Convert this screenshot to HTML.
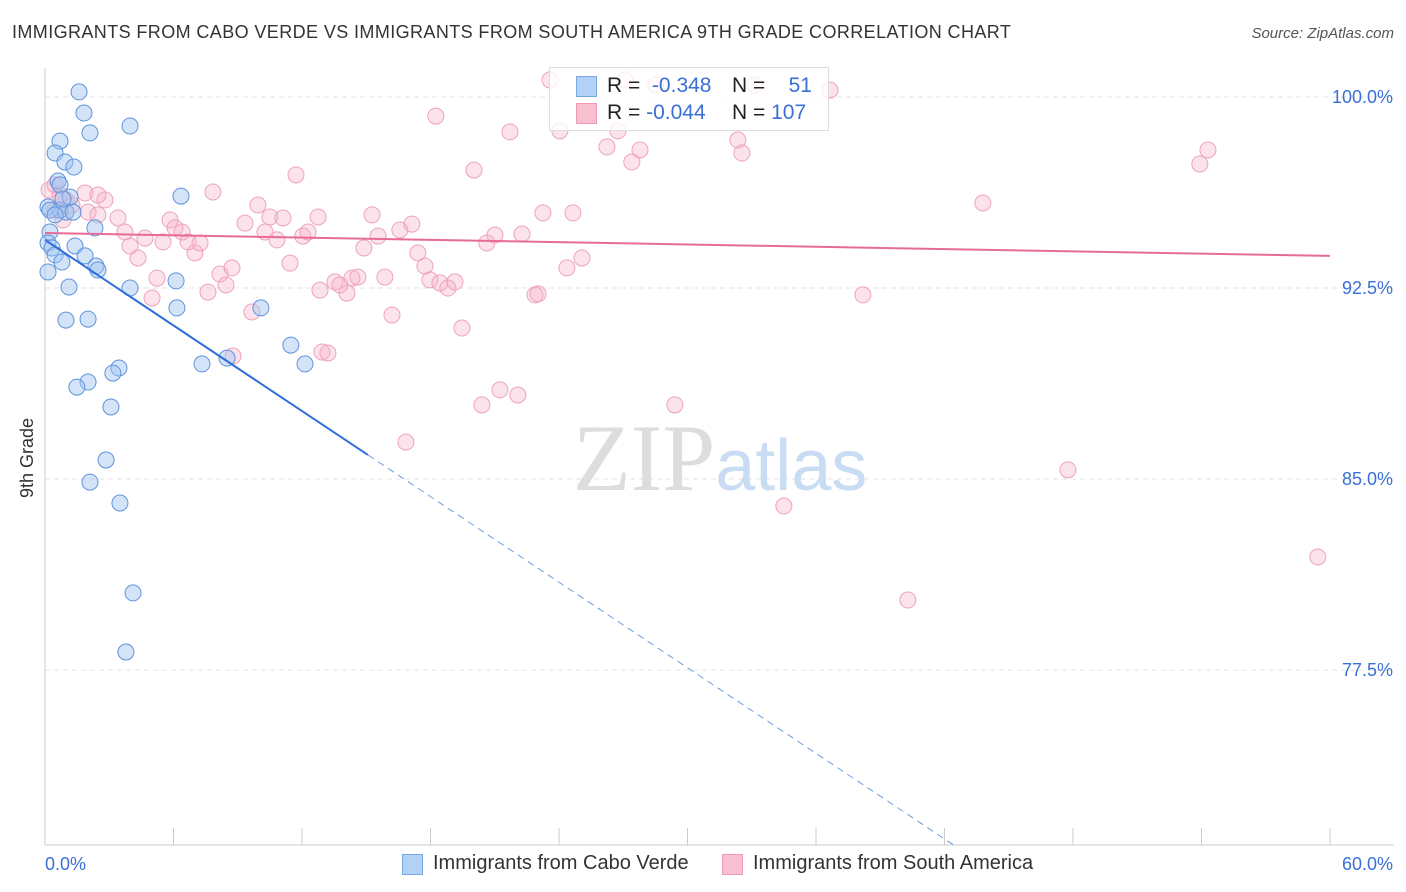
<!DOCTYPE html>
<html><head><meta charset="utf-8"><style>
body{margin:0;background:#fff;font-family:"Liberation Sans",sans-serif;}
#wrap{position:relative;width:1406px;height:892px;overflow:hidden;}
.t{position:absolute;white-space:nowrap;}
</style></head><body>
<div id="wrap">
<div class="t" style="left:12px;top:22px;font-size:18px;letter-spacing:0.4px;color:#333;">IMMIGRANTS FROM CABO VERDE VS IMMIGRANTS FROM SOUTH AMERICA 9TH GRADE CORRELATION CHART</div>
<div class="t" style="right:12px;top:25px;font-size:15px;color:#555;font-style:italic;">Source: ZipAtlas.com</div>
<div class="t" style="left:17px;top:498px;font-size:18px;color:#333;transform:rotate(-90deg);transform-origin:left top;">9th Grade</div>
<svg id="plot" width="1406" height="892" style="position:absolute;left:0;top:0"></svg>
<div style="position:absolute;left:549px;top:67px;width:278px;height:62px;border:1px solid #ddd;background:rgba(255,255,255,0.8);font-size:21px;">
<div style="position:absolute;left:26px;top:8px;width:19px;height:19px;background:#b3d0f5;border:1px solid #7aa7e5;"></div>
<div class="t" style="left:57px;top:6px;color:#222;">R = <span style="color:#3a6fd8">&nbsp;-0.348</span></div>
<div class="t" style="left:182px;top:6px;color:#222;">N = <span style="color:#3a6fd8">&nbsp;&nbsp;&nbsp;51</span></div>
<div style="position:absolute;left:26px;top:35px;width:19px;height:19px;background:#f8bfd0;border:1px solid #ee9ab5;"></div>
<div class="t" style="left:57px;top:33px;color:#222;">R = <span style="color:#3a6fd8">-0.044</span></div>
<div class="t" style="left:182px;top:33px;color:#222;">N = <span style="color:#3a6fd8">107</span></div>
</div>
<div style="position:absolute;left:400px;top:852px;font-size:20px;color:#333;">
<div style="position:absolute;left:2px;top:2px;width:19px;height:19px;background:#b3d0f5;border:1px solid #7aa7e5;"></div>
<div class="t" style="left:33px;top:0;">Immigrants from Cabo Verde</div>
<div style="position:absolute;left:322px;top:2px;width:19px;height:19px;background:#f8bfd0;border:1px solid #ee9ab5;"></div>
<div class="t" style="left:353px;top:0;">Immigrants from South America</div>
</div>
</div>
<script>
const yTicks=[100,92.5,85,77.5];
const yTickLabels=["100.0%","92.5%","85.0%","77.5%"];
const xEnds=[0,60];
const xEndLabels=["0.0%","60.0%"];
const blueX=[1.59,1.82,2.10,3.97,0.70,0.47,0.93,1.35,0.61,0.70,1.17,6.35,0.14,0.70,0.98,1.31,2.33,0.23,0.14,0.33,1.40,0.47,0.79,1.87,2.38,2.47,0.14,1.12,3.97,6.12,10.08,6.16,0.98,2.01,11.48,8.50,7.33,12.14,3.45,3.17,2.01,1.49,3.08,2.85,2.10,3.50,4.11,3.78,0.23,0.47,0.84];
const blueY=[100.2,99.37,98.59,98.86,98.27,97.80,97.45,97.25,96.70,96.55,96.07,96.11,95.68,95.56,95.48,95.48,94.86,94.70,94.27,94.07,94.15,93.80,93.52,93.76,93.36,93.21,93.13,92.54,92.50,92.78,91.72,91.72,91.24,91.28,90.26,89.75,89.52,89.52,89.36,89.16,88.81,88.61,87.83,85.75,84.88,84.06,80.53,78.21,95.56,95.37,96.0];
const pinkX=[0.19,0.47,0.70,0.98,0.47,0.84,1.26,1.87,2.01,2.47,2.80,3.41,3.73,3.97,4.34,4.67,5.00,5.23,5.51,5.84,6.07,6.40,6.68,7.00,7.24,7.61,7.84,8.17,8.45,8.73,9.34,9.66,9.94,10.27,10.50,10.83,11.11,11.44,11.72,12.04,12.28,12.75,12.93,13.21,13.54,13.77,14.10,14.33,14.61,14.89,15.27,15.55,15.87,16.20,16.57,16.85,17.13,17.41,17.74,17.97,18.25,18.44,18.81,19.14,19.47,20.03,20.40,20.63,21.01,21.24,21.71,22.08,22.27,22.88,23.02,23.25,23.58,24.04,24.37,24.65,25.07,26.24,26.75,27.08,27.40,27.78,28.52,29.41,32.35,32.54,33.15,34.50,36.65,38.19,40.29,43.79,47.76,53.92,54.30,59.43,12.84,2.47,8.78];
const pinkY=[96.35,96.55,96.15,95.96,95.56,95.17,95.76,96.23,95.48,95.37,95.96,95.25,94.70,94.15,93.68,94.46,92.11,92.89,94.31,95.17,94.86,94.70,94.31,93.88,94.27,92.34,96.27,93.05,92.62,93.29,95.05,91.56,95.76,94.70,95.29,94.39,95.25,93.48,96.94,94.54,94.70,95.29,89.99,89.95,92.74,92.62,92.30,92.89,92.93,94.07,95.37,94.54,92.93,91.44,94.78,86.45,95.01,93.88,93.36,92.82,99.25,92.70,92.50,92.74,90.93,97.13,87.91,94.27,94.58,88.50,98.63,88.30,94.62,92.23,92.27,95.45,100.67,98.67,93.29,95.45,93.68,98.04,98.67,100.67,97.45,97.92,100.47,87.91,98.31,97.80,100.47,83.94,100.27,92.23,80.25,95.84,85.36,97.37,97.92,81.94,92.42,96.15,89.83];
const blueTrend=[94.39,-0.56,15.08];
const pinkTrend=[94.66,93.76];
const X=v=>45+v*(1285/60);
const Y=v=>97+(100-v)*25.47;
const svg=document.getElementById('plot');
const NS='http://www.w3.org/2000/svg';
function mk(t,a){const e=document.createElementNS(NS,t);for(const k in a)e.setAttribute(k,a[k]);svg.appendChild(e);return e;}
yTicks.forEach((v,i)=>{
 const g=mk('line',{x1:45,x2:1394,y1:Y(v),y2:Y(v),stroke:'#e3e3e3','stroke-dasharray':'5,4'});
 
 
 const t=mk('text',{x:1393,y:Y(v)+6,'text-anchor':'end','font-size':18,fill:'#3a6fd8','font-family':'Liberation Sans, sans-serif'});
 t.textContent=yTickLabels[i];
 
 
});
const ax=mk('line',{x1:45,x2:45,y1:68,y2:845,stroke:'#ccc'});


const bx=mk('line',{x1:45,x2:1394,y1:845,y2:845,stroke:'#ccc'});


for(let i=0;i<=10;i++){const v=i*6;const tk=mk('line',{x1:X(v),x2:X(v),y1:828,y2:845,stroke:'#ccc'});
 
 }
xEnds.forEach((v,i)=>{const t=mk('text',{x:i?1393:45,y:870,'text-anchor':i?'end':'start','font-size':18,fill:'#3a6fd8','font-family':'Liberation Sans, sans-serif'});
 t.textContent=xEndLabels[i];
 
 });
const wm=mk('text',{x:720,y:490,'text-anchor':'middle','font-size':95,'font-family':'Liberation Serif, serif',fill:'#ddd'});
wm.innerHTML='ZIP<tspan font-family="Liberation Sans, sans-serif" font-size="72" fill="#c8dcf3">atlas</tspan>';


pinkX.forEach((x,i)=>{const c=mk('circle',{cx:X(x),cy:Y(pinkY[i]),r:8,fill:'rgba(246,175,198,0.35)',stroke:'#eea3bb','stroke-width':1});
 
 });
blueX.forEach((x,i)=>{const c=mk('circle',{cx:X(x),cy:Y(blueY[i]),r:8,fill:'rgba(160,196,240,0.45)',stroke:'#5f93dc','stroke-width':1});
 
 });
const bf=x=>blueTrend[0]+blueTrend[1]*x;
const xEndDash=(blueTrend[0]-70.63)/-blueTrend[1];
const l1=mk('line',{x1:X(0),y1:Y(bf(0)),x2:X(blueTrend[2]),y2:Y(bf(blueTrend[2])),stroke:'#2f6fdb','stroke-width':2});


const l2=mk('line',{x1:X(blueTrend[2]),y1:Y(bf(blueTrend[2])),x2:X(xEndDash),y2:Y(bf(xEndDash)),stroke:'#6f9ce3','stroke-width':1,'stroke-dasharray':'7,5'});


const l3=mk('line',{x1:X(0),y1:Y(pinkTrend[0]),x2:X(60),y2:Y(pinkTrend[1]),stroke:'#e66b95','stroke-width':2});


</script>
</body></html>
